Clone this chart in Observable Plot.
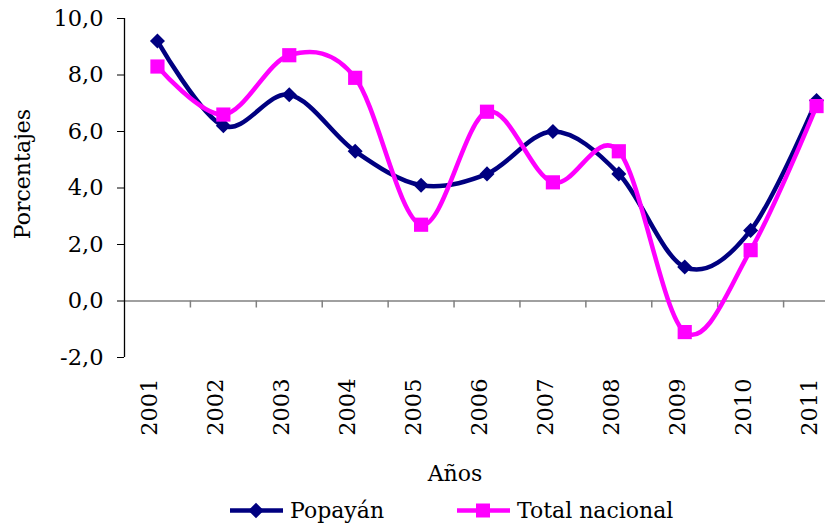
<!DOCTYPE html>
<html>
<head>
<meta charset="utf-8">
<script src="https://cdn.jsdelivr.net/npm/d3@7"></script>
<script src="https://cdn.jsdelivr.net/npm/@observablehq/plot@0.6"></script>
<style>
  html, body { margin: 0; padding: 0; background: #fff; }
  #wrap { width: 825px; height: 528px; overflow: hidden; position: relative; font-family: "DejaVu Serif", serif; }
  #legend { position: relative; width: 825px; height: 32px; font-size: 22px; color: #000; }
  #legend .item { position: absolute; top: -2px; height: 32px; display: flex; align-items: center; }
  #legend svg { display: block; }
</style>
</head>
<body>
<div id="wrap"></div>
<script>
const years = [2001, 2002, 2003, 2004, 2005, 2006, 2007, 2008, 2009, 2010, 2011];
const popayan = [9.2, 6.2, 7.3, 5.3, 4.1, 4.5, 6.0, 4.5, 1.2, 2.5, 7.1];
const totalNacional = [8.3, 6.6, 8.7, 7.9, 2.7, 6.7, 4.2, 5.3, -1.1, 1.8, 6.9];
const yTicks = [-2, 0, 2, 4, 6, 8, 10];
const seriesNames = ["Popayán", "Total nacional"];
const colors = ["#000080", "#FF00FF"];

const dataP = years.map((y, i) => ({year: y, value: popayan[i]}));
const dataT = years.map((y, i) => ({year: y, value: totalNacional[i]}));
const bounds = years.map(y => y - 0.5).concat([years[years.length - 1] + 0.5]);
const fmt = d => d.toFixed(1).replace(".", ",");
const FONT = "DejaVu Serif";

const chart = Plot.plot({
  width: 825,
  height: 496,
  marginLeft: 124,
  marginRight: 0,
  marginTop: 18,
  marginBottom: 139,
  style: {fontFamily: FONT, fontSize: "22px", background: "#fff", color: "#000"},
  x: {domain: [years[0] - 0.5, years[years.length - 1] + 0.5], range: [124, 849], axis: null},
  y: {domain: [yTicks[0], yTicks[yTicks.length - 1]], axis: null},
  marks: [
    Plot.ruleY([0], {stroke: "#808080", strokeWidth: 1.5}),
    Plot.ruleX(bounds.slice(1), {x: d => d, y1: 0, y2: 0, insetBottom: -7, stroke: "#808080", strokeWidth: 1.5}),
    Plot.ruleX([bounds[0]], {x: d => d, y1: yTicks[0], y2: yTicks[yTicks.length - 1], stroke: "#000", strokeWidth: 1.3}),
    Plot.axisY({ticks: yTicks, tickSize: 7, tickPadding: 14, tickFormat: fmt, label: null, fontSize: 22.5, stroke: "#000"}),
    Plot.text(years, {x: d => d, frameAnchor: "bottom", dy: 21, rotate: -90, textAnchor: "end", fontSize: 22.5, fill: "#000", text: d => String(d)}),
    Plot.text(["Porcentajes"], {frameAnchor: "left", dx: -102, dy: -14, rotate: -90, textAnchor: "middle", fontSize: 22, fill: "#000"}),
    Plot.text(["Años"], {frameAnchor: "bottom", dx: -20, dy: 123, textAnchor: "middle", fontSize: 22, fill: "#000"}),
    Plot.line(dataP, {x: "year", y: "value", stroke: colors[0], strokeWidth: 4.5, curve: "cardinal"}),
    Plot.dot(dataP, {x: "year", y: "value", symbol: "square", rotate: 45, r: 6, fill: colors[0], stroke: "none"}),
    Plot.line(dataT, {x: "year", y: "value", stroke: colors[1], strokeWidth: 4.5, curve: "cardinal"}),
    Plot.dot(dataT, {x: "year", y: "value", symbol: "square", r: 8, fill: colors[1], stroke: "none"})
  ]
});

const wrap = document.getElementById("wrap");
wrap.appendChild(chart);

const legend = document.createElement("div");
legend.id = "legend";
const lefts = [230, 457];
seriesNames.forEach((name, i) => {
  const item = document.createElement("div");
  item.className = "item";
  item.style.left = lefts[i] + "px";
  const marker = i === 0
    ? `<rect x="20.5" y="9" width="11" height="11" transform="rotate(45 26 14.5)" fill="${colors[i]}"/>`
    : `<rect x="19" y="7.5" width="14" height="14" fill="${colors[i]}"/>`;
  item.innerHTML = `<svg width="53" height="29" viewBox="0 0 53 29"><line x1="0" x2="53" y1="14.5" y2="14.5" stroke="${colors[i]}" stroke-width="4.5"/>${marker}</svg><span style="margin-left:7px">${name}</span>`;
  legend.appendChild(item);
});
wrap.appendChild(legend);
</script>
</body>
</html>
